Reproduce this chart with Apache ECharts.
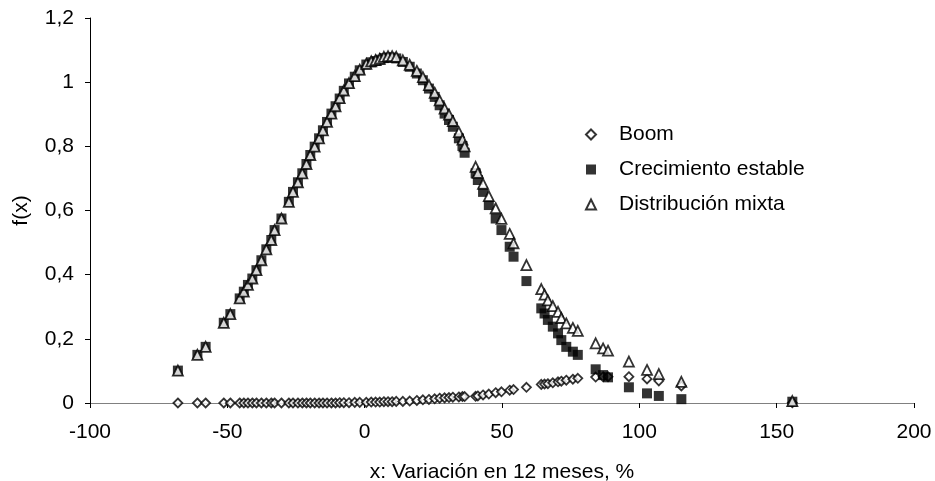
<!DOCTYPE html>
<html>
<head>
<meta charset="utf-8">
<script src="https://cdn.jsdelivr.net/npm/echarts@6/dist/echarts.min.js"></script>
<style>
  html, body { margin: 0; padding: 0; background: #fff; }
  #chart { width: 935px; height: 481px; }
</style>
</head>
<body>
<div id="chart"></div>
<script>
// valores de x (variación en 12 meses, %)
var xVals = [
  -68.0, -60.9, -57.9, -51.3, -48.9, -45.5, -44.0, -42.5, -40.9, -39.4,
  -37.6, -35.8, -34.0, -32.8, -30.3, -27.6, -26.1, -24.3, -22.7, -21.2,
  -19.8, -18.2, -16.6, -15.2, -13.7, -12.1, -10.6, -9.1, -7.6, -5.7,
  -3.6, -1.8, 0.6, 2.4, 4.0, 5.5, 7.0, 8.5, 10.0, 11.5,
  13.9, 16.4, 19.0, 21.2, 23.4, 25.5, 27.3, 29.1, 30.7, 32.1,
  34.3, 35.6, 36.4, 40.4, 41.2, 43.1, 45.2, 47.7, 49.8, 52.8,
  54.2, 58.9, 64.3, 65.5, 66.7, 68.5, 70.4, 71.6, 73.4, 75.8,
  77.6, 84.1, 86.8, 88.6, 96.2, 102.8, 107.1, 115.3, 155.7
];
var boom = [
  0, 0, 0, 0, 0, 0, 0, 0, 0, 0,
  0, 0, 0, 0, 0, 0, 0, 0, 0, 0,
  0, 0, 0, 0, 0, 0, 0, 0.001, 0.001, 0.001,
  0.002, 0.002, 0.002, 0.003, 0.003, 0.003, 0.004, 0.004, 0.004, 0.005,
  0.005, 0.006, 0.008, 0.010, 0.011, 0.013, 0.015, 0.016, 0.017, 0.018,
  0.019, 0.020, 0.020, 0.021, 0.022, 0.025, 0.028, 0.032, 0.035, 0.040,
  0.042, 0.049, 0.058, 0.059, 0.060, 0.063, 0.066, 0.068, 0.071, 0.074,
  0.077, 0.081, 0.082, 0.082, 0.082, 0.075, 0.069, 0.053, 0.001
];
var estable = [
  0.101, 0.150, 0.175, 0.250, 0.277, 0.326, 0.347, 0.368, 0.388, 0.414,
  0.445, 0.479, 0.508, 0.539, 0.575, 0.627, 0.658, 0.688, 0.716, 0.745,
  0.773, 0.799, 0.825, 0.850, 0.876, 0.902, 0.925, 0.949, 0.973, 0.996,
  1.017, 1.037, 1.055, 1.062, 1.066, 1.070, 1.075, 1.077, 1.077, 1.074,
  1.063, 1.048, 1.027, 1.006, 0.980, 0.954, 0.928, 0.902, 0.882, 0.861,
  0.825, 0.801, 0.780, 0.716, 0.695, 0.658, 0.617, 0.575, 0.539, 0.487,
  0.456, 0.380, 0.295, 0.279, 0.259, 0.238, 0.217, 0.196, 0.175, 0.160,
  0.150, 0.105, 0.087, 0.080, 0.049, 0.030, 0.022, 0.012, 0.004
];
var mixta = [
  0.101, 0.150, 0.175, 0.250, 0.277, 0.326, 0.347, 0.368, 0.388, 0.414,
  0.445, 0.479, 0.508, 0.539, 0.575, 0.627, 0.658, 0.688, 0.716, 0.745,
  0.773, 0.799, 0.825, 0.850, 0.876, 0.902, 0.925, 0.950, 0.974, 0.997,
  1.019, 1.039, 1.057, 1.065, 1.069, 1.073, 1.079, 1.081, 1.081, 1.079,
  1.068, 1.054, 1.035, 1.016, 0.991, 0.967, 0.943, 0.918, 0.899, 0.879,
  0.844, 0.821, 0.800, 0.736, 0.717, 0.683, 0.645, 0.607, 0.574, 0.527,
  0.498, 0.430, 0.355, 0.338, 0.320, 0.302, 0.284, 0.265, 0.248, 0.234,
  0.225, 0.186, 0.170, 0.163, 0.129, 0.103, 0.090, 0.066, 0.006
];
var seriesNames = ['Boom', 'Crecimiento estable', 'Distribución mixta'];

function pares(ys) {
  return xVals.map(function (x, i) { return [x, ys[i]]; });
}

var fuente = '"Liberation Sans", Arial, sans-serif';
var myChart = echarts.init(document.getElementById('chart'));
var option = {
  animation: false,
  backgroundColor: '#fff',
  textStyle: { fontFamily: fuente, color: '#000' },
  grid: { left: 90, right: 21, top: 18, bottom: 78, outerBoundsMode: 'none', containLabel: false },
  legend: {
    orient: 'vertical',
    left: 580,
    top: 119,
    itemWidth: 10,
    itemHeight: 10,
    itemGap: 14,
    data: seriesNames,
    textStyle: { fontFamily: fuente, fontSize: 21, color: '#000', padding: [0, 0, 0, 18] }
  },
  xAxis: {
    type: 'value',
    min: -100,
    max: 200,
    interval: 50,
    name: 'x: Variación en 12 meses, %',
    nameLocation: 'middle',
    nameGap: 59,
    nameTextStyle: { fontFamily: fuente, fontSize: 21, color: '#000' },
    axisLine: { onZero: false, lineStyle: { color: '#808080', width: 1 } },
    axisTick: { show: true, length: 5, lineStyle: { color: '#000' } },
    axisLabel: { fontFamily: fuente, fontSize: 21, color: '#000', margin: 19 },
    splitLine: { show: false }
  },
  yAxis: {
    type: 'value',
    min: 0,
    max: 1.2,
    interval: 0.2,
    name: 'f(x)',
    nameLocation: 'middle',
    nameGap: 58,
    nameTextStyle: { fontFamily: fuente, fontSize: 21, color: '#000' },
    axisLine: { show: true, onZero: false, lineStyle: { color: '#000', width: 1 } },
    axisTick: { show: true, length: 5, lineStyle: { color: '#000' } },
    axisLabel: {
      fontFamily: fuente, fontSize: 21, color: '#000', margin: 16,
      formatter: function (v) { return String(Math.round(v * 10) / 10).replace('.', ','); }
    },
    splitLine: { show: false }
  },
  series: [{
    name: seriesNames[0],
    type: 'scatter',
    symbol: 'diamond',
    symbolSize: 9,
    itemStyle: { color: '#fff', borderColor: '#000', borderWidth: 1.8 },
    data: pares(boom)
  }, {
    name: seriesNames[1],
    type: 'scatter',
    symbol: 'rect',
    symbolSize: 10,
    itemStyle: { color: '#000' },
    data: pares(estable)
  }, {
    name: seriesNames[2],
    type: 'scatter',
    symbol: 'triangle',
    symbolSize: 10,
    itemStyle: { color: '#fff', borderColor: '#000', borderWidth: 1.8 },
    data: pares(mixta)
  }]
};
myChart.setOption(option);
</script>
</body>
</html>
